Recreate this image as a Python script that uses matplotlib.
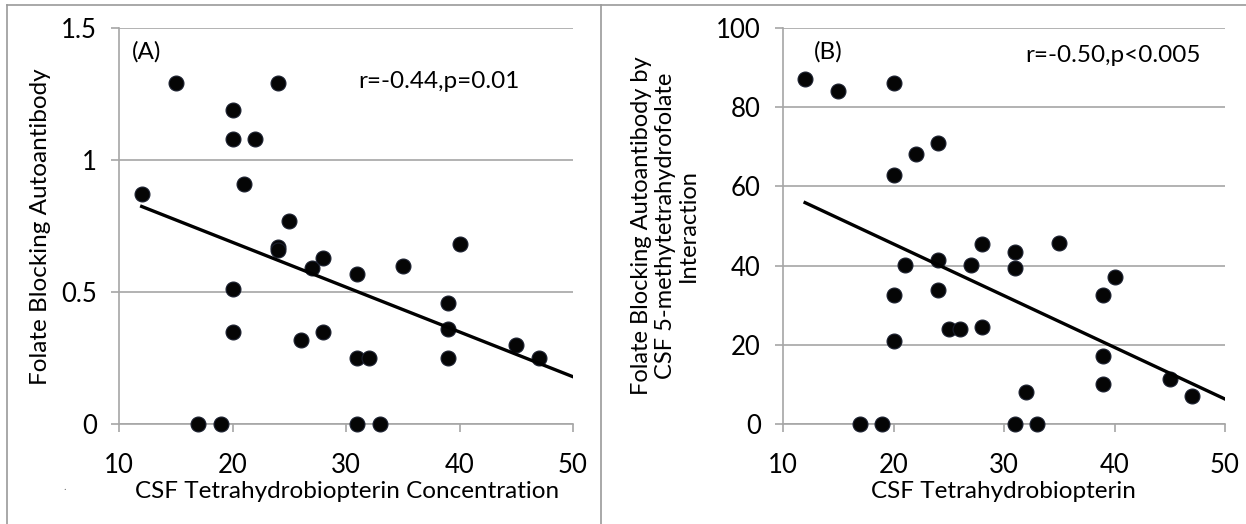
import numpy as np
import matplotlib
matplotlib.use("Agg")
import matplotlib.pyplot as plt
from matplotlib.lines import Line2D

plt.rcParams["font.family"] = ["Lato", "DejaVu Sans"]

# CSF tetrahydrobiopterin (same 30 patients in both panels)
bh4 = [12, 15, 17, 19, 20, 20, 20, 20, 21, 22, 24, 24, 24, 25, 26,
       27, 28, 28, 31, 31, 31, 32, 33, 35, 39, 39, 39, 40, 45, 47]
# panel A: folate blocking autoantibody
fbab = [0.87, 1.29, 0.0, 0.0, 1.19, 1.08, 0.51, 0.35, 0.91, 1.08, 1.29, 0.67, 0.66, 0.77, 0.32,
        0.59, 0.63, 0.35, 0.57, 0.25, 0.0, 0.25, 0.0, 0.60, 0.46, 0.36, 0.25, 0.68, 0.30, 0.25]
# panel B: blocking of 5-methyltetrahydrofolate interaction
mthf = [87.0, 84.0, 0.0, 0.0, 86.2, 63.0, 32.7, 21.0, 40.2, 68.1, 70.9, 41.4, 33.8, 23.9, 23.9,
        40.2, 45.4, 24.6, 43.5, 39.3, 0.0, 8.2, 0.0, 45.8, 32.5, 17.2, 10.1, 37.0, 11.4, 7.15]

# trendlines as drawn in the figure (start at lowest x, run to axis end)
trend_x = [12, 50]
trend_a = [0.824, 0.179]
trend_b = [55.9, 6.3]

W, H = 1246, 524
fig = plt.figure(figsize=(W / 100, H / 100), dpi=100)


def px(x, y):
    return x / W, 1 - y / H


def axes_at(left, top, right, bottom):
    return fig.add_axes([left / W, 1 - bottom / H, (right - left) / W, (bottom - top) / H])


GRID = "#a6a6a6"


def style(ax, ylim, yticks, ylabels):
    ax.set_xlim(10, 50)
    ax.set_ylim(*ylim)
    ax.set_xticks([10, 20, 30, 40, 50])
    ax.set_yticks(yticks)
    ax.set_yticklabels(ylabels)
    for s in ("top", "right"):
        ax.spines[s].set_visible(False)
    for s in ("left", "bottom"):
        ax.spines[s].set_color(GRID)
        ax.spines[s].set_linewidth(1.2)
    ax.yaxis.grid(True, color=GRID, lw=1.2)
    ax.set_axisbelow(True)
    ax.tick_params(length=6, width=1.2, color=GRID, labelsize=18.5)
    ax.tick_params(axis="y", pad=10)
    ax.tick_params(axis="x", pad=15)


def draw(ax, y, trend):
    ax.scatter(bh4, y, s=115, c="#050505", edgecolors="#1a1f2e", linewidths=0.8, zorder=3, clip_on=False)
    ax.plot(trend_x, trend, color="black", lw=2.4, zorder=4)


# panel A
axA = axes_at(119, 28, 573, 424)
style(axA, (0, 1.5), [0, 0.5, 1, 1.5], ["0", "0.5", "1", "1.5"])
draw(axA, fbab, trend_a)
fig.text(*px(147, 52), "(A)", fontsize=17.5, ha="center", va="center")
fig.text(*px(439, 82), "r=-0.44,p=0.01", fontsize=17.5, ha="center", va="center")
fig.text(*px(347, 491), "CSF Tetrahydrobiopterin Concentration", fontsize=17.5, ha="center", va="center")
fig.text(*px(41, 227), "Folate Blocking Autoantibody", fontsize=17.5, ha="center", va="center",
         rotation=90)
fig.text(*px(65, 487), ".", fontsize=8, color="#777777", ha="center", va="center")

# panel B
axB = axes_at(783, 28, 1225, 424)
style(axB, (0, 100), [0, 20, 40, 60, 80, 100], ["0", "20", "40", "60", "80", "100"])
draw(axB, mthf, trend_b)
fig.text(*px(828, 52), "(B)", fontsize=17.5, ha="center", va="center")
fig.text(*px(1113, 55), "r=-0.50,p<0.005", fontsize=17.5, ha="center", va="center")
fig.text(*px(1003, 491), "CSF Tetrahydrobiopterin", fontsize=17.5, ha="center", va="center")
fig.text(*px(665, 226), "Folate Blocking Autoantibody by\nCSF 5-methytetrahydrofolate\nInteraction",
         fontsize=17, ha="center", va="center", rotation=90, linespacing=1.15)

# picture frame
frame = dict(color="#9a9a9a", lw=1.2, transform=fig.transFigure)
fig.add_artist(Line2D([7 / W, 1], [1 - 5 / H, 1 - 5 / H], **frame))
fig.add_artist(Line2D([7 / W, 7 / W], [0, 1 - 5 / H], **frame))
fig.add_artist(Line2D([601 / W, 601 / W], [0, 1 - 5 / H], **frame))

fig.savefig("out.png", dpi=100)
